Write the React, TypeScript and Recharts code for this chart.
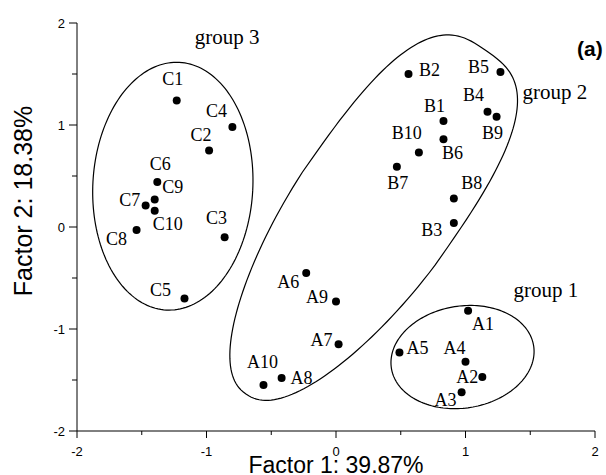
import React from 'react'
import { ScatterChart, Scatter, XAxis, YAxis, ReferenceDot } from 'recharts'

// sample scores on the first two factors
const namesA = ['A1', 'A2', 'A3', 'A4', 'A5', 'A6', 'A7', 'A8', 'A9', 'A10']
const factor1A = [1.02, 1.13, 0.97, 1.0, 0.49, -0.23, 0.02, -0.42, 0.0, -0.56]
const factor2A = [-0.82, -1.47, -1.62, -1.32, -1.23, -0.45, -1.15, -1.48, -0.73, -1.55]

const namesB = ['B1', 'B2', 'B3', 'B4', 'B5', 'B6', 'B7', 'B8', 'B9', 'B10']
const factor1B = [0.83, 0.56, 0.91, 1.17, 1.27, 0.83, 0.47, 0.91, 1.24, 0.64]
const factor2B = [1.04, 1.5, 0.04, 1.13, 1.52, 0.86, 0.59, 0.28, 1.08, 0.73]

const namesC = ['C1', 'C2', 'C3', 'C4', 'C5', 'C6', 'C7', 'C8', 'C9', 'C10']
const factor1C = [-1.23, -0.98, -0.86, -0.8, -1.17, -1.38, -1.47, -1.54, -1.4, -1.4]
const factor2C = [1.24, 0.75, -0.1, 0.98, -0.7, 0.44, 0.21, -0.03, 0.27, 0.16]

const axisTicks = [-2, -1.5, -1, -0.5, 0, 0.5, 1, 1.5, 2]

const groupLabels = ['group 1', 'group 2', 'group 3']
const groupLabelX = [1.62, 1.69, -0.84]
const groupLabelY = [-0.62, 1.32, 1.86]

// where each point's name sits, in px from the dot
const labelOffset: Record<string, [number, number]> = {
  A1: [15, 13], A2: [-15, 0], A3: [-16, 8], A4: [-11, -14], A5: [18, -4],
  A6: [-18, 9], A7: [-17, -4], A8: [20, 0], A9: [-19, -4], A10: [-1, -23],
  B1: [-9, -15], B2: [21, -4], B3: [-22, 7], B4: [-14, -17], B5: [-22, -5],
  B6: [9, 14], B7: [1, 16], B8: [18, -15], B9: [-4, 16], B10: [-12, -20],
  C1: [-4, -22], C2: [-8, -16], C3: [-8, -19], C4: [-16, -16], C5: [-24, -8],
  C6: [3, -18], C7: [-16, -6], C8: [-20, 9], C9: [18, -12], C10: [13, 13],
}

// group outlines: centre in data units; half-lengths (front/back), half-width in px,
// rotation, squareness of each end, taper of the back end
const outlines = [
  { x: 0.977, y: -1.275, a1: 72, a2: 72, b: 51, rot: -9, n1: 2, n2: 2, k: 0 },
  { x: 0.2525, y: 0.081, a1: 205, a2: 214, b: 81, rot: -55, n1: 3, n2: 2.2, k: 0.14 },
  { x: -1.26, y: 0.4, a1: 80, a2: 80, b: 124, rot: 3, n1: 2, n2: 2, k: 0 },
]

const toRows = (names: string[], xs: number[], ys: number[]) =>
  names.map((name, i) => ({ name, x: xs[i], y: ys[i] }))

const serif = '"Liberation Serif", "Times New Roman", serif'
const sans = '"Liberation Sans", Arial, sans-serif'

function outlinePath(cx: number, cy: number, o: (typeof outlines)[number]) {
  const a = (o.rot * Math.PI) / 180
  const pts: string[] = []
  for (let i = 0; i < 180; i++) {
    const t = (i / 180) * Math.PI * 2
    const c = Math.cos(t)
    const s = Math.sin(t)
    const front = c >= 0
    const n = front ? o.n1 : o.n2
    const ex = (front ? o.a1 : o.a2) * Math.sign(c) * Math.pow(Math.abs(c), 2 / n)
    const ey = o.b * Math.sign(s) * Math.pow(Math.abs(s), 2 / n) * (front ? 1 : 1 - o.k * Math.abs(c))
    pts.push(`${cx + ex * Math.cos(a) - ey * Math.sin(a)},${cy + ex * Math.sin(a) + ey * Math.cos(a)}`)
  }
  return 'M' + pts.join('L') + 'Z'
}

const renderPoint = (props: any) => {
  const { cx, cy, payload } = props
  const [dx, dy] = labelOffset[payload.name] || [0, -14]
  return (
    <g>
      <circle cx={cx} cy={cy} r={4} fill="#000" />
      <text
        x={cx + dx}
        y={cy + dy}
        textAnchor="middle"
        dominantBaseline="central"
        fontFamily={serif}
        fontSize={18}
        fill="#000"
      >
        {payload.name}
      </text>
    </g>
  )
}

const XTick = (props: any) => {
  const { x, y, payload } = props
  const major = Number.isInteger(payload.value)
  return (
    <g>
      <line x1={x} y1={y} x2={x} y2={y + (major ? 7 : 4)} stroke="#000" />
      {major && (
        <text x={x} y={y + 20} textAnchor="middle" dominantBaseline="central" fontFamily={sans} fontSize={13} fill="#000">
          {payload.value}
        </text>
      )}
    </g>
  )
}

const YTick = (props: any) => {
  const { x, y, payload } = props
  const major = Number.isInteger(payload.value)
  return (
    <g>
      <line x1={x - (major ? 8 : 5)} y1={y} x2={x} y2={y} stroke="#000" />
      {major && (
        <text x={x - 12} y={y} textAnchor="end" dominantBaseline="central" fontFamily={sans} fontSize={13} fill="#000">
          {payload.value}
        </text>
      )}
    </g>
  )
}

export default function App() {
  return (
    <div style={{ position: 'absolute', left: 0, top: 0, width: 606, height: 475, background: '#fff' }}>
      <ScatterChart width={606} height={475} margin={{ top: 23, right: 11, bottom: 0, left: 17 }}>
        <XAxis
          type="number"
          dataKey="x"
          domain={[-2, 2]}
          ticks={axisTicks}
          interval={0}
          allowDataOverflow
          height={44}
          tickSize={0}
          tickMargin={0}
          tickLine={false}
          tick={<XTick />}
          axisLine={{ stroke: '#000' }}
          label={{
            content: () => (
              <text x={336} y={473} textAnchor="middle" fontFamily={sans} fontSize={23} fill="#000">
                Factor 1: 39.87%
              </text>
            ),
          }}
        />
        <YAxis
          type="number"
          dataKey="y"
          domain={[-2, 2]}
          ticks={axisTicks}
          interval={0}
          allowDataOverflow
          width={60}
          tickSize={0}
          tickMargin={0}
          tickLine={false}
          tick={<YTick />}
          axisLine={{ stroke: '#000' }}
          label={{
            content: () => (
              <text
                x={32}
                y={201}
                transform="rotate(-90 32 201)"
                textAnchor="middle"
                fontFamily={sans}
                fontSize={25}
                fill="#000"
              >
                Factor 2: 18.38%
              </text>
            ),
          }}
        />
        {outlines.map((o, i) => (
          <ReferenceDot
            key={'outline' + i}
            x={o.x}
            y={o.y}
            r={0}
            ifOverflow="visible"
            shape={(p: any) => <path d={outlinePath(p.cx, p.cy, o)} fill="none" stroke="#000" strokeWidth={1.2} />}
          />
        ))}
        <Scatter data={toRows(namesA, factor1A, factor2A)} shape={renderPoint} isAnimationActive={false} />
        <Scatter data={toRows(namesB, factor1B, factor2B)} shape={renderPoint} isAnimationActive={false} />
        <Scatter data={toRows(namesC, factor1C, factor2C)} shape={renderPoint} isAnimationActive={false} />
        {groupLabels.map((g, i) => (
          <ReferenceDot
            key={g}
            x={groupLabelX[i]}
            y={groupLabelY[i]}
            r={0}
            ifOverflow="visible"
            shape={(p: any) => (
              <text x={p.cx} y={p.cy} textAnchor="middle" dominantBaseline="central" fontFamily={serif} fontSize={21} fill="#000">
                {g}
              </text>
            )}
          />
        ))}
        <ReferenceDot
          x={1.96}
          y={1.75}
          r={0}
          ifOverflow="visible"
          shape={(p: any) => (
            <text x={p.cx} y={p.cy} textAnchor="middle" dominantBaseline="central" fontFamily={sans} fontWeight="bold" fontSize={21} fill="#000">
              (a)
            </text>
          )}
        />
      </ScatterChart>
    </div>
  )
}
